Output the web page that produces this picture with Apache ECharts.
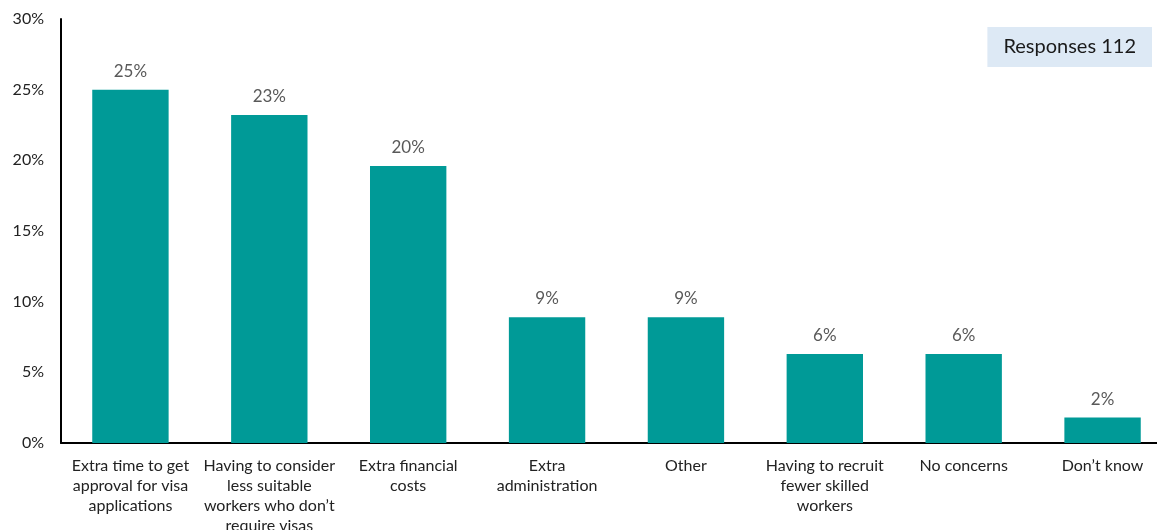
<!DOCTYPE html>
<html>
<head>
<meta charset="utf-8">
<script src="https://cdn.jsdelivr.net/npm/echarts@6/dist/echarts.min.js"></script>
<style>
  html, body { margin: 0; padding: 0; background: #fff; }
  #chart { width: 1157px; height: 530px; }
</style>
</head>
<body>
<div id="chart"></div>
<script>
// Concerns about visa requirements, share of responses (%)
const categories = [
  'Extra time to get\napproval for visa\napplications',
  'Having to consider\nless suitable\nworkers who don\u2019t\nrequire visas',
  'Extra financial\ncosts',
  'Extra\nadministration',
  'Other',
  'Having to recruit\nfewer skilled\nworkers',
  'No concerns',
  'Don\u2019t know'
];
const shares = [25.0, 23.2, 19.6, 8.9, 8.9, 6.3, 6.3, 1.8];
const responseCount = 112;
const yTicks = [0, 5, 10, 15, 20, 25, 30];

const font = 'Lato, "Noto Sans", sans-serif';
const chart = echarts.init(document.getElementById('chart'));
chart.setOption({
  animation: false,
  textStyle: { fontFamily: font },
  title: {
    text: 'Responses ' + responseCount,
    right: 5,
    top: 27,
    padding: [10, 16, 10, 16],
    backgroundColor: '#dde9f5',
    textStyle: { fontFamily: font, fontSize: 20, fontWeight: 'normal', color: '#1a1a1a' }
  },
  grid: { left: 61, right: -15, top: 19, bottom: 87, outerBoundsMode: 'none', containLabel: false },
  xAxis: {
    type: 'category',
    data: categories,
    axisLine: { lineStyle: { color: '#000', width: 2 } },
    axisTick: { show: false },
    axisLabel: {
      interval: 0,
      margin: 13,
      fontSize: 16,
      lineHeight: 20,
      color: '#222'
    }
  },
  yAxis: {
    type: 'value',
    min: yTicks[0],
    max: yTicks[yTicks.length - 1],
    interval: 5,
    axisLine: { show: true, lineStyle: { color: '#000', width: 2 } },
    axisTick: { show: false },
    splitLine: { show: false },
    axisLabel: {
      margin: 17,
      fontSize: 16,
      color: '#222',
      formatter: v => v + '%'
    }
  },
  series: [{
    type: 'bar',
    data: shares,
    barWidth: '55%',
    itemStyle: { color: '#009a97' },
    label: {
      show: true,
      position: 'top',
      distance: 10,
      fontSize: 17,
      color: '#595959',
      formatter: p => Math.round(p.value) + '%'
    }
  }]
});
</script>
</body>
</html>
